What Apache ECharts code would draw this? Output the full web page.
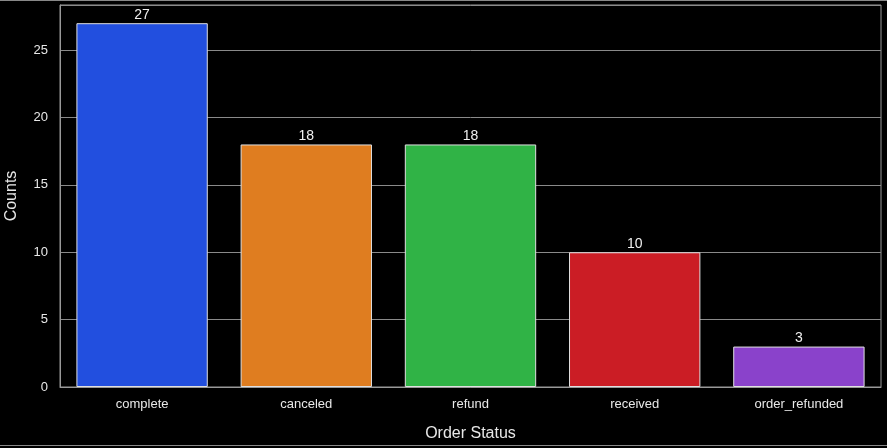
<!DOCTYPE html>
<html><head><meta charset="utf-8">
<script src="https://cdn.jsdelivr.net/npm/echarts@6/dist/echarts.min.js"></script>
<style>html,body{margin:0;padding:0;background:#000;}#c{width:887px;height:448px;}</style>
</head><body><div id="c"></div>
<script>
const categories = ["complete", "canceled", "refund", "received", "order_refunded"];
const counts = [27, 18, 18, 10, 3];
const colors = ["#224FDF", "#DF7D20", "#30B346", "#CB1D25", "#8A42CB"];
const yTicks = [0, 5, 10, 15, 20, 25];

const chart = echarts.init(document.getElementById('c'));
const font = "'Liberation Sans', Arial, sans-serif";
chart.setOption({
  backgroundColor: '#000',
  animation: false,
  graphic: [
    {type: 'rect', shape: {x: 0, y: 0, width: 887, height: 1}, style: {fill: '#888'}},
    {type: 'rect', shape: {x: 0, y: 445, width: 887, height: 1}, style: {fill: '#888'}}
  ],
  grid: {left: 60, right: 6, top: 5, bottom: 61, show: true, borderColor: '#999', borderWidth: 1, backgroundColor: 'transparent', containLabel: false, outerBoundsMode: 'none'},
  xAxis: {
    type: 'category', data: categories,
    name: 'Order Status', nameLocation: 'middle', nameGap: 39,
    nameTextStyle: {color: '#e8e8e8', fontSize: 16, fontFamily: font},
    axisLine: {lineStyle: {color: '#999'}},
    axisTick: {show: false},
    axisLabel: {color: '#e8e8e8', fontSize: 13, fontFamily: font, margin: 11},
    splitLine: {show: false}
  },
  yAxis: {
    type: 'value', min: 0, max: 28.35, interval: 5,
    name: 'Counts', nameLocation: 'middle', nameGap: 40,
    nameTextStyle: {color: '#e8e8e8', fontSize: 16, fontFamily: font},
    axisLine: {show: true, lineStyle: {color: '#999'}},
    axisTick: {show: false},
    axisLabel: {color: '#e8e8e8', fontSize: 13, fontFamily: font, margin: 12,
      formatter: v => yTicks.includes(v) ? String(v) : ''},
    splitLine: {show: true, lineStyle: {color: '#8a8a8a', width: 1}}
  },
  series: [{
    type: 'bar',
    barCategoryGap: '20%',
    data: counts.map((v, i) => ({value: v, itemStyle: {color: colors[i]}})),
    itemStyle: {borderColor: '#e0e0e0', borderWidth: 1},
    label: {show: true, position: 'top', distance: 1, color: '#f0f0f0', fontSize: 14, fontFamily: font}
  }]
});
</script></body></html>
